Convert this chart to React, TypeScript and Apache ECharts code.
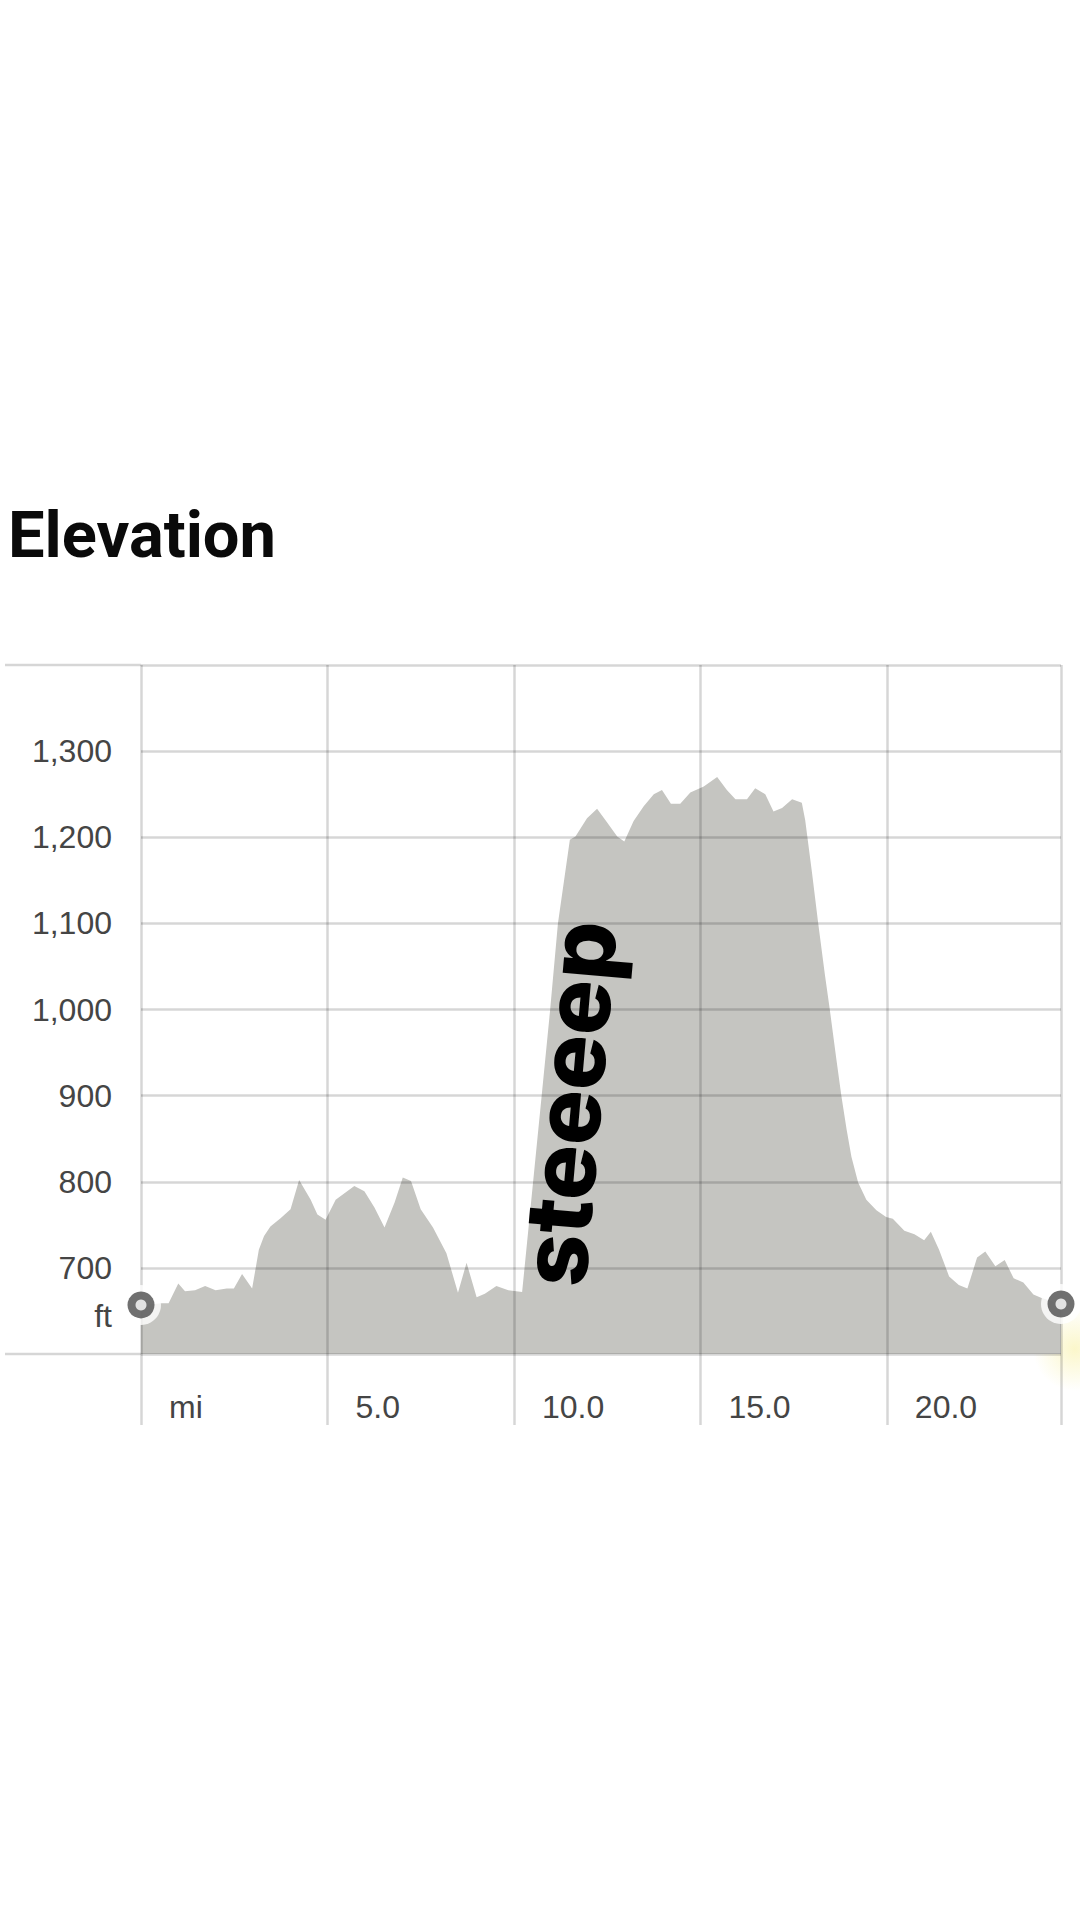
import React, { useEffect, useRef } from "react";
import * as echarts from "echarts";

// distance along the route (mi) and elevation (ft)
const distanceMi = [
	0, 0.35, 0.56, 0.74, 1.0, 1.18, 1.45, 1.72, 2.0, 2.3, 2.49, 2.71, 2.98, 3.16, 3.3, 3.47, 3.75, 4.01, 4.24, 4.55,
	4.73, 4.95, 5.22, 5.72, 5.99, 6.26, 6.53, 6.8, 7.02, 7.24, 7.5, 7.83, 8.19, 8.5, 8.73, 9.0, 9.22, 9.53, 9.85,
	10.22, 10.51, 10.74, 10.97, 11.18, 11.5, 11.65, 11.96, 12.23, 12.5, 12.77, 12.96, 13.21, 13.48, 13.75, 13.97,
	14.21, 14.46, 14.73, 15.09, 15.45, 15.71, 15.94, 16.25, 16.47, 16.74, 16.96, 17.19, 17.46, 17.72, 17.81, 17.99,
	18.16, 18.34, 18.47, 18.65, 18.78, 18.92, 19.05, 19.23, 19.45, 19.72, 19.98, 20.16, 20.47, 20.74, 21.0, 21.18,
	21.4, 21.67, 21.93, 22.16, 22.42, 22.64, 22.91, 23.16, 23.4, 23.66, 23.93, 24.15, 24.67,
];
const elevationFt = [
	657, 658, 659, 659, 682, 673, 674, 679, 674, 676, 676, 693, 676, 721, 737, 748, 758, 768, 802, 779,
	762, 756, 779, 795, 789, 770, 747, 776, 805, 801, 768, 747, 717, 671, 706, 666, 670, 679, 674,
	672, 798, 898, 999, 1100, 1197, 1201, 1222, 1233, 1217, 1201, 1195, 1219, 1236, 1250, 1255,
	1239, 1239, 1252, 1259, 1270, 1255, 1244, 1244, 1257, 1250, 1230, 1234, 1244, 1240, 1220, 1160,
	1100, 1040, 1000, 941, 900, 861, 829, 799, 779, 767, 759, 757, 743, 739, 732, 742,
	721, 690, 680, 676, 712, 719, 702, 709, 688, 683, 669, 665, 658,
];

const yMin = 600;
const yMax = 1400;
const yStep = 100;
const xStep = 5;
const xUnit = "mi";
const yUnit = "ft";
const note = "steeeep";
const noteAt = [11.45, 891];

const gridColor = "rgba(0,0,0,0.16)";
const labelColor = "#454545";
const fillColor = "#c5c5c1";

export default function App() {
	const chartRef = useRef<HTMLDivElement>(null);

	useEffect(() => {
		if (!chartRef.current) return;
		const chart = echarts.init(chartRef.current, null, { renderer: "svg" });
		const xMax = distanceMi[distanceMi.length - 1];
		const profile = distanceMi.map((d, i) => [d, elevationFt[i]]);
		const ends = [profile[0], profile[profile.length - 1]];

		// start / end markers: white halo, dark ring, white hole
		const marker = (size: number, color: string, z: number) => ({
			type: "scatter",
			data: ends,
			symbol: "circle",
			symbolSize: size,
			clip: false,
			silent: true,
			z,
			itemStyle: { color, borderWidth: 0 },
		});

		chart.setOption({
			animation: false,
			backgroundColor: "#ffffff",
			grid: { left: 141, right: 19, top: 665, bottom: 566 },
			xAxis: {
				type: "value",
				min: 0,
				max: xMax,
				interval: xStep,
				z: 5,
				axisLine: { show: false },
				axisTick: { show: true, length: 71, lineStyle: { color: gridColor, width: 2.5 } },
				splitLine: { show: true, lineStyle: { color: gridColor, width: 2.5 } },
				axisLabel: {
					show: true,
					margin: 53,
					align: "left",
					verticalAlign: "middle",
					padding: [0, 0, 0, 28],
					fontSize: 32,
					fontFamily: "Liberation Sans",
					color: labelColor,
					formatter: (v: number) => (v === 0 ? xUnit : v % xStep === 0 ? v.toFixed(1) : ""),
				},
			},
			yAxis: {
				type: "value",
				min: yMin,
				max: yMax,
				interval: yStep,
				z: 5,
				axisLine: { show: false },
				axisTick: { show: false },
				splitLine: { show: true, lineStyle: { color: gridColor, width: 2.5 } },
				axisLabel: {
					margin: 29,
					fontSize: 32,
					fontFamily: "Liberation Sans",
					color: labelColor,
					formatter: (v: number) => (v === yMin || v === yMax ? "" : v.toLocaleString("en-US")),
				},
			},
			series: [
				{
					type: "line",
					data: profile,
					symbol: "none",
					z: 2,
					lineStyle: { width: 0 },
					areaStyle: { color: fillColor, opacity: 1, origin: "start" },
				},
				marker(40, "#ffffff", 10),
				marker(27, "#4c4c4c", 11),
				marker(11, "#ffffff", 12),
			],
		});

		const topLeft = chart.convertToPixel({ gridIndex: 0 }, [0, yMax]);
		const bottomLeft = chart.convertToPixel({ gridIndex: 0 }, [0, yMin]);
		const ftPos = chart.convertToPixel({ gridIndex: 0 }, [0, 644]);
		const notePos = chart.convertToPixel({ gridIndex: 0 }, noteAt);
		const endPos = chart.convertToPixel({ gridIndex: 0 }, ends[1]);

		chart.setOption({
			graphic: [
				{
					type: "text",
					left: 8,
					top: 502,
					style: { text: "Elevation", fontSize: 65, fontWeight: "bold", fontFamily: "Roboto", fill: "#0a0a0a" },
				},
				{
					type: "line",
					shape: { x1: 5, y1: topLeft[1], x2: topLeft[0], y2: topLeft[1] },
					style: { stroke: gridColor, lineWidth: 2.5 },
				},
				{
					type: "line",
					shape: { x1: 5, y1: bottomLeft[1], x2: bottomLeft[0], y2: bottomLeft[1] },
					style: { stroke: gridColor, lineWidth: 2.5 },
				},
				{
					// faint yellow glare beside the end marker
					type: "circle",
					z: 1,
					shape: { cx: endPos[0] + 14, cy: endPos[1] + 45, r: 42 },
					style: {
						fill: new echarts.graphic.RadialGradient(0.5, 0.5, 0.5, [
							{ offset: 0, color: "rgba(250,244,185,0.75)" },
							{ offset: 1, color: "rgba(250,244,185,0)" },
						]),
					},
				},
				{
					type: "text",
					x: ftPos[0] - 29,
					y: ftPos[1],
					style: {
						text: yUnit,
						fontSize: 32,
						fontFamily: "Liberation Sans",
						fill: labelColor,
						align: "right",
						verticalAlign: "middle",
					},
				},
				{
					type: "text",
					x: notePos[0],
					y: notePos[1],
					rotation: (85 * Math.PI) / 180,
					z: 20,
					style: {
						text: note,
						fontSize: 92,
						fontWeight: 800,
						fontFamily: "Inter",
						fill: "#000000",
						align: "center",
						verticalAlign: "middle",
					},
				},
			],
		});

		return () => {
			chart.dispose();
		};
	}, []);

	return (
		<div
			ref={chartRef}
			style={{ position: "absolute", left: 0, top: 0, width: 1080, height: 1920 }}
		/>
	);
}
